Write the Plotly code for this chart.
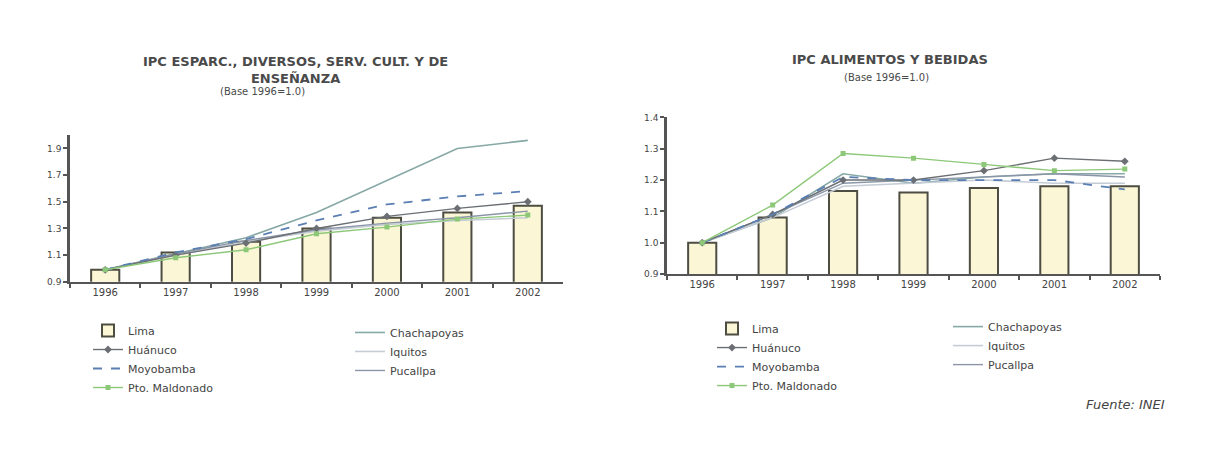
import plotly.graph_objects as go

years = ["1996", "1997", "1998", "1999", "2000", "2001", "2002"]

# Left chart: IPC Esparcimiento, diversos, serv. cult. y de enseñanza
esp_lima = [0.99, 1.12, 1.20, 1.30, 1.38, 1.42, 1.47]
esp_huanuco = [0.99, 1.10, 1.19, 1.30, 1.39, 1.45, 1.50]
esp_moyobamba = [0.99, 1.12, 1.22, 1.36, 1.48, 1.54, 1.58]
esp_maldonado = [0.99, 1.08, 1.14, 1.26, 1.31, 1.37, 1.40]
esp_chachapoyas = [0.99, 1.11, 1.23, 1.42, 1.66, 1.90, 1.96]
esp_iquitos = [0.99, 1.10, 1.20, 1.28, 1.33, 1.36, 1.38]
esp_pucallpa = [0.99, 1.11, 1.21, 1.29, 1.34, 1.38, 1.43]

# Right chart: IPC Alimentos y bebidas
ali_lima = [1.00, 1.08, 1.165, 1.16, 1.175, 1.18, 1.18]
ali_huanuco = [1.00, 1.09, 1.20, 1.20, 1.23, 1.27, 1.26]
ali_moyobamba = [1.00, 1.09, 1.21, 1.20, 1.20, 1.20, 1.17]
ali_maldonado = [1.00, 1.12, 1.285, 1.27, 1.25, 1.23, 1.235]
ali_chachapoyas = [1.00, 1.08, 1.22, 1.19, 1.21, 1.22, 1.22]
ali_iquitos = [1.00, 1.08, 1.18, 1.19, 1.20, 1.19, 1.19]
ali_pucallpa = [1.00, 1.09, 1.19, 1.20, 1.21, 1.22, 1.21]

left_ticks = [0.9, 1.1, 1.3, 1.5, 1.7, 1.9]
right_ticks = [0.9, 1.0, 1.1, 1.2, 1.3, 1.4]

FONT = "DejaVu Sans"
TXT = "#444444"
BAR_FILL = "#fbf6d6"
BAR_LINE = "#4d4d42"
C_HUA = "#6b6f73"
C_MOY = "#5b7fb3"
C_MAL = "#8cc878"
C_CHA = "#86a8a6"
C_IQU = "#c4ccd6"
C_PUC = "#8a96a8"

fig = go.Figure()


def add_chart(xa, ya, lima, hua, moy, mal, cha, iqu, puc, leg_a, leg_b):
    fig.add_trace(go.Bar(x=years, y=lima, name="Lima", xaxis=xa, yaxis=ya,
                         marker=dict(color=BAR_FILL, line=dict(color=BAR_LINE, width=2)),
                         legend=leg_a, width=0.4))
    fig.add_trace(go.Scatter(x=years, y=cha, name="Chachapoyas", xaxis=xa, yaxis=ya,
                             mode="lines", line=dict(color=C_CHA, width=1.6), legend=leg_b))
    fig.add_trace(go.Scatter(x=years, y=iqu, name="Iquitos", xaxis=xa, yaxis=ya,
                             mode="lines", line=dict(color=C_IQU, width=1.6), legend=leg_b))
    fig.add_trace(go.Scatter(x=years, y=puc, name="Pucallpa", xaxis=xa, yaxis=ya,
                             mode="lines", line=dict(color=C_PUC, width=1.4), legend=leg_b))
    fig.add_trace(go.Scatter(x=years, y=hua, name="Huánuco", xaxis=xa, yaxis=ya,
                             mode="lines+markers", line=dict(color=C_HUA, width=1.4),
                             marker=dict(symbol="diamond", size=6, color=C_HUA), legend=leg_a))
    fig.add_trace(go.Scatter(x=years, y=moy, name="Moyobamba", xaxis=xa, yaxis=ya,
                             mode="lines", line=dict(color=C_MOY, width=1.8, dash="dash"),
                             legend=leg_a))
    fig.add_trace(go.Scatter(x=years, y=mal, name="Pto. Maldonado", xaxis=xa, yaxis=ya,
                             mode="lines+markers", line=dict(color=C_MAL, width=1.4),
                             marker=dict(symbol="square", size=5, color=C_MAL), legend=leg_a))


add_chart("x", "y", esp_lima, esp_huanuco, esp_moyobamba, esp_maldonado,
          esp_chachapoyas, esp_iquitos, esp_pucallpa, "legend", "legend2")
add_chart("x2", "y2", ali_lima, ali_huanuco, ali_moyobamba, ali_maldonado,
          ali_chachapoyas, ali_iquitos, ali_pucallpa, "legend3", "legend4")

W, H = 1224, 455


def px_x(p):
    return p / W


def px_y(p):
    return (H - p) / H


xaxis_common = dict(type="category", showline=True, linecolor="#555555", linewidth=2,
                    ticks="outside", tickson="boundaries", ticklen=4, tickcolor="#555555",
                    tickwidth=1.5, showgrid=False, zeroline=False,
                    tickfont=dict(family=FONT, size=10, color=TXT))
yaxis_common = dict(showline=True, linecolor="#555555", linewidth=2.5, ticks="outside",
                    ticklen=4, tickcolor="#555555", tickwidth=1.5, showgrid=False,
                    zeroline=False, tickfont=dict(family=FONT, size=9, color=TXT),
                    tickformat=".1f")

legend_common = dict(bgcolor="rgba(0,0,0,0)", font=dict(family=FONT, size=11, color=TXT),
                     xanchor="left", yanchor="top", tracegroupgap=0, itemwidth=30)


def note(text, xp, yp, size, bold=False):
    return dict(text=text, x=px_x(xp), y=px_y(yp), xref="paper", yref="paper",
                xanchor="center", yanchor="middle", showarrow=False,
                font=dict(family=FONT, size=size, color="#4a4a4a",
                          weight="bold" if bold else "normal"))


fig.update_layout(
    width=W, height=H,
    margin=dict(l=0, r=0, t=0, b=0),
    paper_bgcolor="white", plot_bgcolor="white",
    font=dict(family=FONT, color=TXT),
    showlegend=True,
    xaxis=dict(domain=[px_x(70), px_x(563)], anchor="y", **xaxis_common),
    yaxis=dict(domain=[px_y(283), px_y(133)], anchor="x", range=[0.9, 2.0],
               tickvals=left_ticks, **yaxis_common),
    xaxis2=dict(domain=[px_x(667), px_x(1160)], anchor="y2", **xaxis_common),
    yaxis2=dict(domain=[px_y(275), px_y(115)], anchor="x2", range=[0.9, 1.4],
                tickvals=right_ticks, **yaxis_common),
    legend=dict(x=px_x(88), y=px_y(318), **legend_common),
    legend2=dict(x=px_x(350), y=px_y(320), **legend_common),
    legend3=dict(x=px_x(712), y=px_y(316), **legend_common),
    legend4=dict(x=px_x(948), y=px_y(314), **legend_common),
    annotations=[
        note("IPC ESPARC., DIVERSOS, SERV. CULT. Y DE<br>ENSEÑANZA", 295, 66, 13, True),
        note("(Base 1996=1.0)", 262, 88, 10),
        note("IPC ALIMENTOS Y BEBIDAS", 890, 56, 13, True),
        note("(Base 1996=1.0)", 886, 74, 10),
        dict(text="<i>Fuente: INEI</i>", x=px_x(1125), y=px_y(408), xref="paper",
             yref="paper", xanchor="center", yanchor="middle", showarrow=False,
             font=dict(family=FONT, size=13, color="#444444")),
    ],
)

fig.write_html("out.html")
